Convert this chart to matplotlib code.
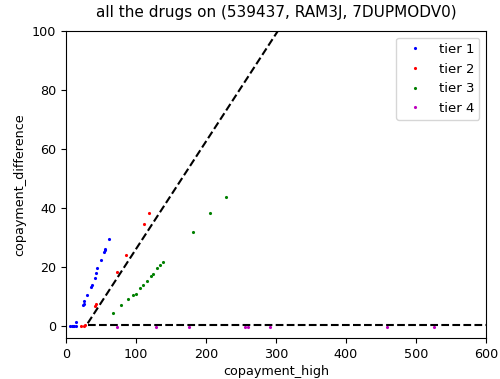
import numpy as np
import matplotlib
matplotlib.use('Agg')
import matplotlib.pyplot as plt

plt.rcParams['font.size'] = 9.2

# tier 1
t1_x = [6, 8, 10, 12, 14, 14, 24, 25, 26, 30, 35, 37, 41, 43, 44, 50, 54, 55, 56, 62]
t1_y = [0, 0, 0, 0, 0, 1.5, 7.1, 7.7, 8.5, 10.5, 13.3, 13.9, 16.4, 17.9, 19.8, 22.6, 25.0, 25.8, 26.3, 29.7]
# tier 2
t2_x = [22, 25, 27, 42, 43, 73, 86, 111, 119]
t2_y = [0, 0, 0.3, 6.8, 7.7, 18.4, 24.0, 34.8, 38.5]
# tier 3
t3_x = [67, 79, 88, 95, 100, 106, 110, 116, 121, 124, 130, 134, 139, 181, 205, 229]
t3_y = [4.4, 7.1, 9.3, 10.5, 11.0, 12.8, 13.9, 15.2, 17.0, 17.6, 19.6, 20.6, 21.7, 32.0, 38.5, 43.8]
# tier 4
t4_x = [73, 129, 176, 256, 260, 292, 458, 526]
t4_y = [-0.4, -0.4, -0.4, -0.3, -0.3, -0.2, -0.2, -0.2]

# reference lines
diag_x = [31, 330]
diag_y = [1, 110]
flat_x = [31, 600]
flat_y = [0.5, 0.5]

fig = plt.figure(figsize=(5, 3.79), dpi=100)
ax = fig.add_axes([0.132, 0.108, 0.84, 0.81])

ax.plot(t1_x, t1_y, '.', color='blue', ms=2.5, label='tier 1')
ax.plot(t2_x, t2_y, '.', color='red', ms=2.5, label='tier 2')
ax.plot(t3_x, t3_y, '.', color='green', ms=2.5, label='tier 3')
ax.plot(t4_x, t4_y, '.', color='m', ms=2.5, label='tier 4')
ax.plot(diag_x, diag_y, '--', color='black', lw=1.5)
ax.plot(flat_x, flat_y, '--', color='black', lw=1.5)

ax.set_xlim(0, 600)
ax.set_ylim(-4, 100)
ax.set_title('all the drugs on (539437, RAM3J, 7DUPMODV0)', fontsize=11, pad=10)
ax.set_xlabel('copayment_high', labelpad=3)
ax.set_ylabel('copayment_difference')
ax.legend(loc='upper right', fontsize=9.5)

plt.savefig('out.png')
